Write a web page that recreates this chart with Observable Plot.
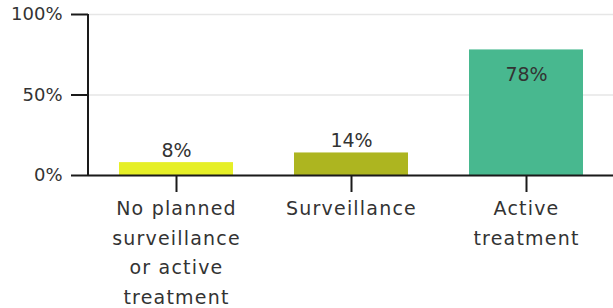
<!DOCTYPE html>
<html>
<head>
<meta charset="utf-8">
<script src="https://cdn.jsdelivr.net/npm/d3@7"></script>
<script src="https://cdn.jsdelivr.net/npm/@observablehq/plot@0.6"></script>
<style>
  html, body { margin: 0; padding: 0; background: #fff; }
  #chart svg { display: block; }
</style>
</head>
<body>
<div id="chart"></div>
<script>
const categories = ["No planned surveillance or active treatment", "Surveillance", "Active treatment"];
const tickLabels = ["No planned\nsurveillance\nor active\ntreatment", "Surveillance", "Active\ntreatment"];
const values = [8, 14, 78];
const valueLabels = ["8%", "14%", "78%"];
const colors = ["#e6ef27", "#adb520", "#48b88f"];
const yTicks = [0, 50, 100];

const data = categories.map((c, i) => ({cat: c, value: values[i], label: valueLabels[i], color: colors[i]}));
const labelMap = new Map(categories.map((c, i) => [c, tickLabels[i]]));
const inside = data.filter(d => d.value > 50);
const outside = data.filter(d => d.value <= 50);

// vertical y-axis line along the left edge of the plot frame
const yAxisLine = (index, scales, values, dims) => {
  const g = d3.create("svg:line")
    .attr("x1", dims.marginLeft).attr("x2", dims.marginLeft)
    .attr("y1", scales.y(100)).attr("y2", scales.y(0))
    .attr("stroke", "#1a1a1a").attr("stroke-width", 2);
  return g.node();
};

const chart = Plot.plot({
  width: 613,
  height: 308,
  marginLeft: 88,
  marginRight: 0,
  marginTop: 14,
  marginBottom: 133,
  style: {fontFamily: "'DejaVu Sans', sans-serif", fontSize: "18px", color: "#333", background: "#fff"},
  x: {domain: categories, paddingInner: 0.35, paddingOuter: 0.175, align: 0.5},
  y: {domain: [0, 100]},
  marks: [
    Plot.gridY(yTicks, {stroke: "#e6e6e6", strokeOpacity: 1, strokeWidth: 1.5}),
    Plot.barY(data, {x: "cat", y: "value", fill: "color"}),
    Plot.text(outside, {x: "cat", y: "value", text: "label", dy: -12, fill: "#333", fontSize: 19, ariaLabel: "value label"}),
    Plot.text(inside, {x: "cat", y: "value", text: "label", dy: 25, fill: "#333", fontSize: 19, ariaLabel: "value label"}),
    Plot.axisY({ticks: yTicks, tickFormat: d => d + "%", tickSize: 17, tickPadding: 9, fontSize: 18, stroke: "#1a1a1a", strokeWidth: 2, fill: "#333", label: null}),
    yAxisLine,
    Plot.ruleY([0], {stroke: "#1a1a1a", strokeWidth: 2}),
    Plot.axisX({tickFormat: d => labelMap.get(d), tickSize: 17, tickPadding: 1, fontSize: 19, lineHeight: 1.57, stroke: "#1a1a1a", strokeWidth: 2, fill: "#333", label: null})
  ]
});
d3.select(chart).selectAll('g[aria-label="x-axis tick label"]').attr("letter-spacing", "1.2px");
d3.select(chart).selectAll('g[aria-label="value label"]').attr("letter-spacing", "1px");
document.getElementById("chart").appendChild(chart);
</script>
</body>
</html>
